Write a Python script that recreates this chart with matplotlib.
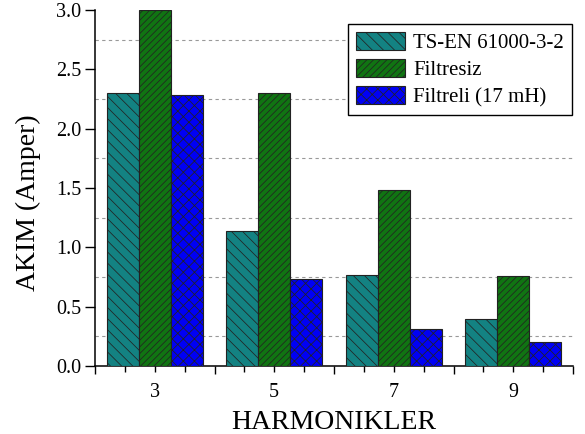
import matplotlib
matplotlib.use("Agg")
import matplotlib.pyplot as plt
from matplotlib.ticker import FixedLocator, FuncFormatter
import numpy as np

# harmonic orders on the x axis
harmonics = ["3", "5", "7", "9"]

# current values (A)
ts_en = [2.30, 1.14, 0.77, 0.40]
filtresiz = [3.00, 2.30, 1.48, 0.76]
filtreli = [2.28, 0.73, 0.31, 0.20]

series_labels = ["TS-EN 61000-3-2", "Filtresiz", "Filtreli (17 mH)"]

plt.rcParams['font.family'] = ['Liberation Serif', 'DejaVu Serif']
plt.rcParams['hatch.linewidth'] = 0.55

fig = plt.figure(figsize=(5.85, 4.34), dpi=100)
ax = fig.add_axes([95 / 585, 1 - 366 / 434, (573 - 95) / 585, (366 - 10) / 434])

x = np.arange(len(harmonics))
w = 0.267

ax.bar(x - w, ts_en, w, color='#138282', edgecolor='#222222', linewidth=0.8,
       hatch='\\\\\\', label=series_labels[0], zorder=3)
ax.bar(x, filtresiz, w, color='#107412', edgecolor='#222222', linewidth=0.8,
       hatch='/////', label=series_labels[1], zorder=3)
ax.bar(x + w, filtreli, w, color='#0000f5', edgecolor='#222222', linewidth=0.8,
       hatch='xxx', label=series_labels[2], zorder=3)

ax.set_xlim(-0.5, len(harmonics) - 0.5)
ax.set_ylim(0, 3.0)

# x axis: long ticks at the group edges, short ticks every quarter, labels at centres
ax.xaxis.set_major_locator(FixedLocator(np.arange(-0.5, len(harmonics), 1.0)))
ax.xaxis.set_major_formatter(FuncFormatter(lambda v, p: ""))
minor_pos = [c + d for c in x for d in (-0.25, 0.0, 0.25)]
ax.xaxis.set_minor_locator(FixedLocator(minor_pos))


def minor_label(v, p):
    i = int(round(v))
    if abs(v - i) < 1e-6 and 0 <= i < len(harmonics):
        return harmonics[i]
    return ""


ax.xaxis.set_minor_formatter(FuncFormatter(minor_label))
ax.tick_params(axis='x', which='major', direction='out', length=6, width=1)
ax.tick_params(axis='x', which='minor', direction='out', length=4, width=1,
               labelsize=14.5, pad=8)

# y axis
ax.set_yticks(np.arange(0, 3.01, 0.5))
ax.set_yticks(np.arange(0.25, 3.0, 0.5), minor=True)
ax.yaxis.set_major_formatter(FuncFormatter(lambda v, p: "%.1f" % v))
ax.tick_params(axis='y', which='major', direction='out', length=7, width=1,
               labelsize=14.5, pad=3)
ax.tick_params(axis='y', which='minor', length=0)
ax.grid(axis='y', which='minor', color='#999999', linestyle=(0, (3, 3)),
        linewidth=0.8, zorder=0)

for s in ['top', 'right']:
    ax.spines[s].set_visible(False)
for s in ['left', 'bottom']:
    ax.spines[s].set_linewidth(1.1)

ax.set_xlabel("HARMONIKLER", fontsize=20, labelpad=6)
ax.set_ylabel("AKIM (Amper)", fontsize=20)
ax.yaxis.set_label_coords(-0.112, 0.458)

leg = ax.legend(loc='upper right', bbox_to_anchor=(572 / 585, 1 - 24 / 434),
                bbox_transform=fig.transFigure, borderaxespad=0, fontsize=15,
                fancybox=False, framealpha=1, edgecolor='black',
                handlelength=2.35, handleheight=0.95, handletextpad=0.4,
                labelspacing=0.28, borderpad=0.38)
leg.get_frame().set_linewidth(1.0)

plt.savefig("out.png", dpi=100)
